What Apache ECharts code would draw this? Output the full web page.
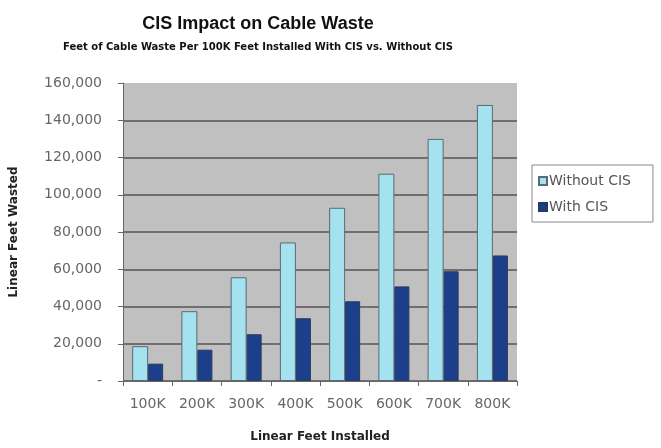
<!DOCTYPE html>
<html>
<head>
<meta charset="utf-8">
<script src="https://cdn.jsdelivr.net/npm/echarts@6/dist/echarts.min.js"></script>
<style>
  html, body { margin: 0; padding: 0; background: #fff; }
  #chart { width: 661px; height: 448px; }
</style>
</head>
<body>
<div id="chart"></div>
<script>
var categories = ['100K', '200K', '300K', '400K', '500K', '600K', '700K', '800K'];
var withoutCis = [18700, 37500, 55700, 74400, 93000, 111300, 130000, 148200];
var withCis = [9300, 16800, 25100, 33700, 42800, 50800, 58900, 67400];
var seriesNames = ['Without CIS', 'With CIS'];

var myChart = echarts.init(document.getElementById('chart'));

var font = 'DejaVu Sans, Verdana, sans-serif';

var option = {
  animation: false,
  backgroundColor: '#ffffff',
  title: [
    {
      text: 'CIS Impact on Cable Waste',
      left: 253, top: 10, textAlign: 'center',
      textStyle: { fontFamily: 'Liberation Sans, Arial, sans-serif', fontSize: 18, fontWeight: 'bold', color: '#111' }
    },
    {
      text: 'Feet of Cable Waste Per 100K Feet Installed With CIS vs. Without CIS',
      left: 253, top: 37, textAlign: 'center',
      textStyle: { fontFamily: font, fontSize: 10, fontWeight: 'bold', color: '#111' }
    }
  ],
  legend: {
    orient: 'vertical',
    left: 532, top: 165,
    padding: [9, 22, 8, 6],
    backgroundColor: '#ffffff',
    borderColor: '#888',
    borderWidth: 1,
    itemWidth: 8, itemHeight: 8,
    itemGap: 12,
    icon: 'rect',
    data: seriesNames,
    textStyle: { fontFamily: font, fontSize: 14, color: '#555', padding: [0, 0, 0, -3] }
  },
  grid: {
    left: 123, right: 144, top: 83, bottom: 66,
    show: true,
    backgroundColor: '#c0c0c0',
    borderWidth: 0
  },
  xAxis: {
    type: 'category',
    data: categories,
    name: 'Linear Feet Installed',
    nameLocation: 'middle',
    nameGap: 50,
    nameTextStyle: { fontFamily: font, fontSize: 12, fontWeight: 'bold', color: '#222' },
    axisLine: { lineStyle: { color: '#666', width: 1 } },
    axisTick: { show: true, alignWithLabel: false, length: 5, lineStyle: { color: '#666' } },
    axisLabel: { fontFamily: font, fontSize: 14, color: '#666', margin: 16 }
  },
  yAxis: {
    type: 'value',
    min: 0, max: 160000, interval: 20000,
    name: 'Linear Feet Wasted',
    nameLocation: 'middle',
    nameGap: 103,
    nameTextStyle: { fontFamily: font, fontSize: 12, fontWeight: 'bold', color: '#222' },
    axisLine: { show: true, lineStyle: { color: '#666' } },
    axisTick: { show: true, length: 5, lineStyle: { color: '#666' } },
    axisLabel: {
      fontFamily: font, fontSize: 14, color: '#666', margin: 21,
      formatter: function (v) { return v === 0 ? '-' : v.toLocaleString('en-US'); }
    },
    splitLine: {
      show: true,
      lineStyle: {
        color: ['#555', '#555', '#555', '#555', '#555', '#555', '#555', '#555', 'rgba(0,0,0,0)'],
        width: 1.5
      }
    }
  },
  series: [
    {
      name: seriesNames[0],
      type: 'bar',
      data: withoutCis,
      barWidth: 16,
      barGap: '0%',
      itemStyle: { color: '#a3e2ee', borderColor: '#5a6a70', borderWidth: 1 }
    },
    {
      name: seriesNames[1],
      type: 'bar',
      data: withCis,
      barWidth: 15,
      itemStyle: { color: '#1b3f8a', borderColor: '#2a3a5a', borderWidth: 1 }
    }
  ]
};

myChart.setOption(option);
</script>
</body>
</html>
